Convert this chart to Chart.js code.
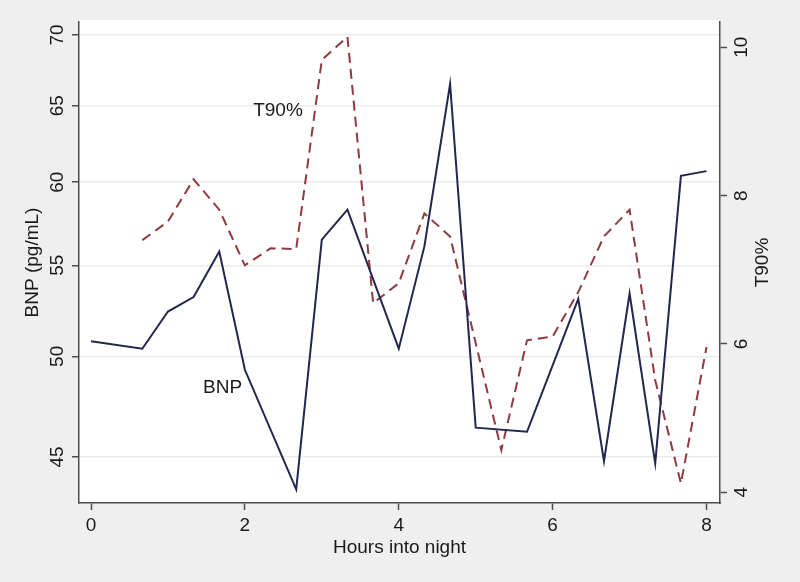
<!DOCTYPE html>
<html>
<head>
<meta charset="utf-8">
<script src="https://cdn.jsdelivr.net/npm/chart.js@4.4.1/dist/chart.umd.min.js"></script>
<style>
  html, body { margin: 0; padding: 0; background: #efefef; }
  canvas { display: block; }
</style>
</head>
<body>
<canvas id="nightChart" width="800" height="582"></canvas>
<script>
var bnpHours = [0, 0.667, 1, 1.333, 1.667, 2, 2.667, 3, 3.333, 4, 4.333, 4.667, 5, 5.667, 6.333, 6.667, 7, 7.333, 7.667, 8];
var bnpValues = [50.8, 50.4, 52.4, 53.2, 55.8, 49.3, 43.5, 56.5, 58.3, 50.4, 56.1, 66.5, 46.4, 46.2, 53.1, 44.8, 53.4, 44.7, 60.4, 60.7];
var t90Hours = [0.667, 1, 1.333, 1.667, 2, 2.333, 2.667, 3, 3.333, 3.667, 4, 4.333, 4.667, 5.333, 5.667, 6, 6.333, 6.667, 7, 7.333, 7.667, 8];
var t90Values = [7.40, 7.65, 8.22, 7.81, 7.06, 7.29, 7.28, 9.83, 10.14, 6.55, 6.82, 7.76, 7.45, 4.57, 6.05, 6.10, 6.70, 7.45, 7.81, 5.51, 4.12, 5.96];
var hourTicks = [0, 2, 4, 6, 8];
var bnpTicks = [45, 50, 55, 60, 65, 70];
var t90Ticks = [4, 6, 8, 10];

var FONT = '"Liberation Sans", Arial, sans-serif';
var INK = '#1a1a1a';
var AXIS = '#4d4d4d';

function toPoints(xs, ys) {
  return xs.map(function (h, i) { return { x: h, y: ys[i] }; });
}

function setTicks(values) {
  return function (scale) {
    scale.ticks = values.map(function (v) { return { value: v }; });
  };
}

// white plot region, axis titles and the in-plot line labels
var plotDecor = {
  id: 'plotDecor',
  beforeDraw: function (chart) {
    var a = chart.chartArea, ctx = chart.ctx;
    ctx.save();
    ctx.fillStyle = '#ffffff';
    ctx.fillRect(a.left, a.top - 2, a.right - a.left, a.bottom - a.top + 2);
    ctx.restore();
  },
  afterDraw: function (chart) {
    var a = chart.chartArea, ctx = chart.ctx;
    var midY = (a.top + a.bottom) / 2;
    ctx.save();
    ctx.fillStyle = INK;
    ctx.font = '19px ' + FONT;
    ctx.textAlign = 'center';
    ctx.textBaseline = 'middle';

    ctx.save();
    ctx.translate(33, midY);
    ctx.rotate(-Math.PI / 2);
    ctx.fillText('BNP (pg/mL)', 0, 0);
    ctx.restore();

    ctx.save();
    ctx.translate(763, midY);
    ctx.rotate(-Math.PI / 2);
    ctx.fillText('T90%', 0, 0);
    ctx.restore();

    ctx.fillText('Hours into night', (a.left + a.right) / 2, 548);

    ctx.textBaseline = 'alphabetic';
    var xs = chart.scales.x;
    ctx.fillText('T90%', xs.getPixelForValue(2.43), chart.scales.yT90.getPixelForValue(9.08));
    ctx.fillText('BNP', xs.getPixelForValue(1.71), chart.scales.yBNP.getPixelForValue(48.1));
    ctx.restore();
  }
};

new Chart('nightChart', {
  type: 'line',
  data: {
    datasets: [
      {
        label: 'BNP',
        data: toPoints(bnpHours, bnpValues),
        yAxisID: 'yBNP',
        borderColor: '#23264f',
        borderWidth: 2,
        pointRadius: 0,
        tension: 0,
        fill: false
      },
      {
        label: 'T90%',
        data: toPoints(t90Hours, t90Values),
        yAxisID: 'yT90',
        borderColor: '#8f3a40',
        borderWidth: 2,
        borderDash: [10, 6],
        pointRadius: 0,
        tension: 0,
        fill: false
      }
    ]
  },
  options: {
    responsive: false,
    animation: false,
    layout: { padding: { top: 22, left: 0, right: 0, bottom: 0 } },
    plugins: {
      legend: { display: false },
      tooltip: { enabled: false }
    },
    scales: {
      x: {
        type: 'linear',
        min: -0.156,
        max: 8.175,
        afterBuildTicks: setTicks(hourTicks),
        afterFit: function (s) { s.height = 79; },
        ticks: { color: INK, font: { family: FONT, size: 19 }, padding: 4, maxRotation: 0 },
        grid: { drawOnChartArea: false, tickLength: 7, tickColor: AXIS, tickWidth: 1.5 },
        border: { color: AXIS, width: 1.5 }
      },
      yBNP: {
        type: 'logarithmic',
        position: 'left',
        min: 42.88,
        max: 70.96,
        afterBuildTicks: setTicks(bnpTicks),
        afterFit: function (s) { s.width = 79; },
        ticks: {
          color: INK, font: { family: FONT, size: 19 }, padding: 4,
          minRotation: 90, maxRotation: 90, crossAlign: 'center',
          callback: function (v) { return String(v); }
        },
        grid: { color: '#ececec', lineWidth: 1.5, tickLength: 7, tickColor: AXIS, tickWidth: 1.5 },
        border: { color: AXIS, width: 1.5 }
      },
      yT90: {
        type: 'linear',
        position: 'right',
        min: 3.856,
        max: 10.341,
        afterBuildTicks: setTicks(t90Ticks),
        afterFit: function (s) { s.width = 80; },
        ticks: {
          color: INK, font: { family: FONT, size: 19 }, padding: 4,
          minRotation: 90, maxRotation: 90, crossAlign: 'center'
        },
        grid: { drawOnChartArea: false, tickLength: 7, tickColor: AXIS, tickWidth: 1.5 },
        border: { color: AXIS, width: 1.5 }
      }
    }
  },
  plugins: [plotDecor]
});
</script>
</body>
</html>
